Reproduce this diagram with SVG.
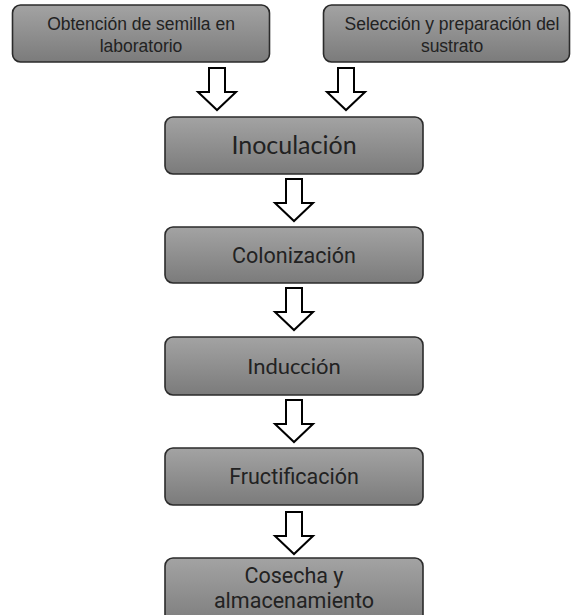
<svg xmlns="http://www.w3.org/2000/svg" width="571" height="615" viewBox="0 0 571 615">
<defs>
<linearGradient id="g" x1="0" y1="0" x2="0" y2="1">
<stop offset="0" stop-color="#a3a3a3"/>
<stop offset="1" stop-color="#7b7b7b"/>
</linearGradient>
<path id="arr" d="M-8,0 H8 V24 H19 L0,42 L-19,24 H-8 Z"/>
</defs>
<style>
.box{fill:url(#g);stroke:#2b2b2b;stroke-width:1.6}
.arrow{fill:#fff;stroke:#000;stroke-width:2;stroke-linejoin:miter}
.t{fill:#222;text-anchor:middle}
.small{font-family:"Liberation Sans",Arial,sans-serif;font-size:17.5px}
.lato{font-family:Lato,"Liberation Sans",sans-serif;font-size:25px}
.rob{font-family:Roboto,"Liberation Sans",sans-serif;font-size:21.5px}
</style>
<g id="connectors">
<use href="#arr" class="arrow" x="217" y="68"/>
<use href="#arr" class="arrow" x="346" y="68"/>
<use href="#arr" class="arrow" x="294" y="179"/>
<use href="#arr" class="arrow" x="294" y="288"/>
<use href="#arr" class="arrow" x="294" y="400"/>
<use href="#arr" class="arrow" x="294" y="512"/>
</g>
<g id="n1">
<rect class="box" x="12.5" y="5" width="257" height="57" rx="8"/>
<text class="t small" x="141" y="30">Obtención de semilla en</text>
<text class="t small" x="141" y="52">laboratorio</text>
</g>
<g id="n2">
<rect class="box" x="323.5" y="5" width="246" height="57" rx="8"/>
<text class="t small" x="452" y="30">Selección y preparación del</text>
<text class="t small" x="452" y="52">sustrato</text>
</g>
<g id="n3">
<rect class="box" x="165" y="117" width="258" height="57" rx="8"/>
<text class="t lato" x="294" y="154">Inoculación</text>
</g>
<g id="n4">
<rect class="box" x="165" y="227" width="258" height="56" rx="8"/>
<text class="t rob" x="294" y="263">Colonización</text>
</g>
<g id="n5">
<rect class="box" x="165" y="337" width="258" height="58" rx="8"/>
<text class="t lato" x="294" y="374" style="font-size:22px">Inducción</text>
</g>
<g id="n6">
<rect class="box" x="165" y="448" width="258" height="57" rx="8"/>
<text class="t rob" x="294" y="484">Fructificación</text>
</g>
<g id="n7">
<rect class="box" x="165" y="558" width="258" height="70" rx="8"/>
<text class="t rob" x="294" y="583">Cosecha y</text>
<text class="t rob" x="294" y="608">almacenamiento</text>
</g>
</svg>
